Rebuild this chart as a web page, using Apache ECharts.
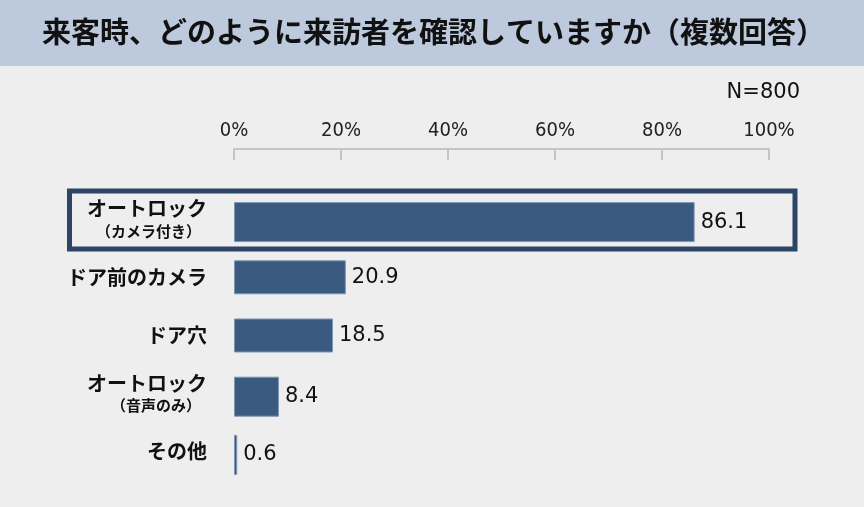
<!DOCTYPE html>
<html>
<head>
<meta charset="utf-8">
<script src="https://cdn.jsdelivr.net/npm/echarts@6/dist/echarts.min.js"></script>
<style>
  html, body { margin: 0; padding: 0; background: #eeeeee; }
  #chart { width: 864px; height: 507px; }
</style>
</head>
<body>
<div id="chart"></div>
<script>
var titleText = '来客時、どのように来訪者を確認していますか（複数回答）';
var sampleNote = 'N=800';
var categories = ['オートロック\n（カメラ付き）', 'ドア前のカメラ', 'ドア穴', 'オートロック\n（音声のみ）', 'その他'];
var values = [86.1, 20.9, 18.5, 8.4, 0.6];
// bars drawn thinner in the picture (rows 2 and 3)
var thinRows = [false, true, true, false, false];
var tickValues = [0, 20, 40, 60, 80, 100];

var wideData = values.map((v, i) => thinRows[i] ? '-' : v);
var thinData = values.map((v, i) => thinRows[i] ? v : '-');

const myChart = echarts.init(document.getElementById('chart'));

var barLabel = {
  show: true,
  position: 'right',
  distance: 6,
  color: '#111',
  fontSize: 21,
  fontFamily: '"DejaVu Sans", sans-serif',
  formatter: p => Number(p.value).toFixed(1)
};

let option = {
  backgroundColor: '#eeeeee',
  animation: false,
  title: [{
    text: titleText,
    left: 42,
    top: 17,
    padding: 0,
    textStyle: {
      fontFamily: '"Noto Sans CJK JP", sans-serif',
      fontSize: 29,
      fontWeight: 'bold',
      color: '#111'
    }
  }, {
    text: sampleNote,
    right: 64,
    top: 82,
    padding: 0,
    textStyle: {
      fontFamily: '"DejaVu Sans", sans-serif',
      fontSize: 21,
      fontWeight: 'normal',
      color: '#111'
    }
  }],
  grid: {
    left: 234,
    right: 95,
    top: 190,
    bottom: 26
  },
  xAxis: {
    type: 'value',
    position: 'top',
    offset: 41,
    min: 0,
    max: 100,
    interval: 20,
    splitLine: { show: false },
    axisLine: { show: true, lineStyle: { color: '#c4c4c4', width: 2 } },
    axisTick: { show: true, inside: true, length: 11, lineStyle: { color: '#c4c4c4', width: 2 } },
    axisLabel: {
      margin: 8,
      color: '#222',
      fontSize: 20,
      fontFamily: '"DejaVu Sans Condensed", sans-serif',
      formatter: v => tickValues.indexOf(v) >= 0 ? v + '%' : ''
    }
  },
  yAxis: {
    type: 'category',
    inverse: true,
    data: categories,
    axisLine: { show: false },
    axisTick: { show: false },
    axisLabel: {
      margin: 27,
      align: 'right',
      formatter: function (val) {
        var parts = val.split('\n');
        if (parts.length > 1) return '{a|' + parts[0] + '}\n{b|' + parts[1] + '}';
        return '{a|' + parts[0] + '}';
      },
      rich: {
        a: {
          fontFamily: '"Noto Sans CJK JP", sans-serif',
          fontSize: 20,
          fontWeight: 'bold',
          color: '#111',
          lineHeight: 24,
          align: 'right'
        },
        b: {
          fontFamily: '"Noto Sans CJK JP", sans-serif',
          fontSize: 15,
          fontWeight: 'bold',
          color: '#111',
          lineHeight: 21,
          align: 'right',
          padding: [0, 6, 0, 0]
        }
      }
    }
  },
  series: [{
    type: 'bar',
    data: wideData,
    barWidth: 40,
    barGap: '-100%',
    itemStyle: { color: '#3a5a80', borderColor: '#7d95b2', borderWidth: 1 },
    label: barLabel
  }, {
    type: 'bar',
    data: thinData,
    barWidth: 34,
    barGap: '-100%',
    itemStyle: { color: '#3a5a80', borderColor: '#7d95b2', borderWidth: 1 },
    label: barLabel
  }]
};

myChart.setOption(option);

// title band and frame round the first row, placed from the axes
var rowY = myChart.convertToPixel({ yAxisIndex: 0 }, categories[0]);
var endX = myChart.convertToPixel({ xAxisIndex: 0 }, 100);
myChart.setOption({
  graphic: [{
    type: 'rect',
    z: -10,
    shape: { x: 0, y: 0, width: 864, height: 66 },
    style: { fill: '#bdcadd' }
  }, {
    type: 'rect',
    z: 100,
    shape: { x: 69.5, y: rowY - 28, width: endX + 26 - 69.5, height: 58 },
    style: { fill: 'none', stroke: '#2c4466', lineWidth: 5 }
  }]
});
</script>
</body>
</html>
